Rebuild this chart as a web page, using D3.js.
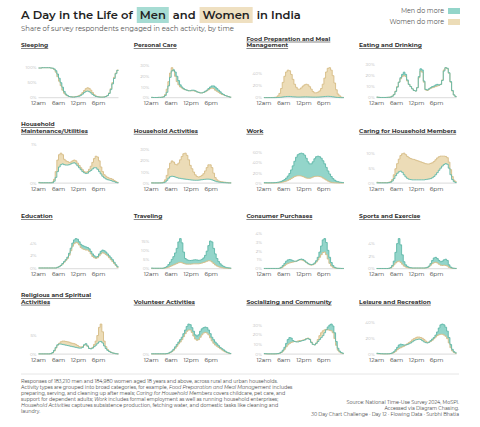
<!DOCTYPE html>
<html>
<head>
<meta charset="utf-8">
<script src="https://cdn.jsdelivr.net/npm/d3@7"></script>
<style>
  body { margin: 0; background: #fff; }
  svg { font-family: Montserrat, Inter, "Open Sans", sans-serif; }
</style>
</head>
<body>
<div id="chart"></div>
<script>
// half-hour slots of the day, share of respondents in percent
const hours = d3.range(0, 24, 0.5);

const activities = [
  'Sleeping', 'Personal Care', 'Food Preparation and Meal\nManagement', 'Eating and Drinking',
  'Household\nMaintenance/Utilities', 'Household Activities', 'Work', 'Caring for Household Members',
  'Education', 'Traveling', 'Consumer Purchases', 'Sports and Exercise',
  'Religious and Spiritual\nActivities', 'Volunteer Activities', 'Socializing and Community', 'Leisure and Recreation'
];

const sleepingMen = [
  99,99,100,100,100,100,100,99,98.5,96,90,79,
  65,50,35,21,12,7,4,3,2,2,3,4,
  5,8,12,17,21,22,20,16,11,7,4,3,
  2,2,2,2,4,7,14,27,46,64,80,91];
const sleepingWomen = [
  99,99,100,100,100,100,100,99,98,94,85,70,
  55,40,25,15,9,6,4,3,3,3,4,5,
  7,11,17,24,30,33,31,25,17,10,6,4,
  3,2,2,3,4,8,16,30,50,68,82,92];

const personalMen = [
  0.3,0.2,0.2,0.2,0.3,0.3,0.4,0.7,2,5,11,19,
  25,26,24,20,16,12,10,8.5,7.5,7,6.5,6.5,
  7,7,6.5,5.5,5,4.5,4.5,5,6,7,8.5,10,
  11,11,10,8.5,7,5.5,4,3,2,1.5,1,0.5];
const personalWomen = [
  0.3,0.2,0.2,0.2,0.3,0.3,0.5,1,3,8,15,23,
  28,25,20,15,12,10,9,8,7.5,7,6.5,6.5,
  6.5,6.5,6,5.5,5,4.5,4.5,5,5.5,6.5,7.5,8.5,
  9,8.5,7,6,5,4,3,2.5,2,1.5,1,0.5];

const foodMen = [
  0.1,0.1,0.1,0.1,0.1,0.1,0.1,0.2,0.3,0.5,0.8,1.2,
  1.6,1.9,2,2,1.8,1.5,1.3,1.1,1,1,1.1,1.2,
  1.3,1.3,1.2,1.1,1,0.9,0.9,0.9,1,1.1,1.3,1.6,
  1.9,2.1,2.2,2.1,1.8,1.4,1,0.6,0.4,0.2,0.1,0.1];
const foodWomen = [
  0.3,0.3,0.3,0.3,0.3,0.4,0.6,1,3,7,15,25,
  35,42,45,44,38,30,22,17,14,14,16,19,
  21,22,21,18,14,10,8,8,9,11,15,22,
  32,42,48,49,45,36,24,13,6,3,1,0.5];

const eatingMen = [
  0.5,0.3,0.2,0.2,0.2,0.2,0.3,0.4,0.6,1.3,2.7,5.5,
  9.5,14,18,21,23,21,16,12,10,8,6.5,6,
  9,19,26,25,15,7.5,7,8,9,10,10.5,11.5,
  12,11.5,12,15.5,24,27,26.5,22.5,14.5,6.5,2.5,1];
const eatingWomen = [
  0.5,0.3,0.2,0.2,0.2,0.2,0.3,0.4,0.7,1.5,3,6,
  10,14,17,19,20,19,15,12,10,8,6.5,6,
  9,18,24,23,14,7,6.5,7.5,8.5,9,9.5,10,
  10.5,11,12,16,25,27,26,22,14,6,2.5,1];

const maintenanceMen = [
  0.01,0.01,0.01,0.01,0.01,0.01,0.01,0.01,0.01,0.05,0.15,0.3,
  0.42,0.48,0.5,0.48,0.47,0.47,0.48,0.5,0.52,0.53,0.5,0.45,
  0.4,0.35,0.3,0.27,0.25,0.26,0.3,0.33,0.37,0.4,0.4,0.36,
  0.3,0.24,0.18,0.14,0.11,0.09,0.08,0.07,0.05,0.04,0.02,0.01];
const maintenanceWomen = [
  0.02,0.01,0.01,0.01,0.01,0.01,0.01,0.01,0.03,0.1,0.3,0.6,
  0.74,0.78,0.74,0.62,0.58,0.56,0.54,0.55,0.58,0.6,0.58,0.52,
  0.46,0.4,0.35,0.3,0.28,0.3,0.36,0.44,0.54,0.64,0.7,0.68,
  0.58,0.42,0.3,0.22,0.18,0.15,0.13,0.12,0.1,0.07,0.04,0.02];

const householdMen = [
  0.2,0.2,0.2,0.2,0.2,0.2,0.2,0.4,1,2.5,4.5,5.8,
  6.2,6,5.5,5,4.5,4.3,4,3.8,3.6,3.4,3.2,3,
  2.8,2.7,2.6,2.6,2.7,2.9,3.1,3.3,3.5,3.6,3.6,3.4,
  3,2.4,1.8,1.3,1,0.8,0.6,0.5,0.4,0.3,0.2,0.2];
const householdWomen = [
  0.3,0.2,0.2,0.2,0.2,0.3,0.5,1,3,7,13,18,
  20,19,17,16.5,18,21,24,26.5,27,25,21,16,
  13,10,7.5,6,5.5,6,7,8.5,11,14,16.5,16.5,
  14,9,5,3,2,1.5,1.2,1,0.8,0.6,0.4,0.3];

const workMen = [
  1,0.8,0.7,0.7,0.7,0.8,1,1.3,1.8,2.5,3.5,5,
  7,10,14,19,26,34,43,51,56,58,59,58,
  55,49,42,38,38,42,48,52,53,52,49,44,
  38,31,24,18,13,9,6,4,3,2,1.5,1.2];
const workWomen = [
  0.3,0.3,0.3,0.3,0.3,0.3,0.3,0.4,0.6,1,1.5,2.2,
  3,4,5.5,7,9,11,13,14,14.5,14.5,14,13,
  11.5,10,9.5,9.5,10.5,12,13,13.5,13.5,13,12,10,
  8,6,4,2.5,1.5,1,0.7,0.5,0.4,0.3,0.3,0.3];

const caringMen = [
  0.1,0.1,0.1,0.1,0.1,0.1,0.1,0.2,0.3,0.7,1.5,2.5,
  3.3,3.8,4,3.6,2.8,2.1,1.6,1.3,1.2,1.1,1.1,1.1,
  1.1,1.1,1.1,1.1,1.1,1.2,1.3,1.4,1.5,1.8,2.2,2.8,
  3.5,4.3,5,5.7,6.2,6.5,6.3,5,2.8,1.2,0.5,0.2];
const caringWomen = [
  0.3,0.2,0.2,0.2,0.2,0.2,0.2,0.3,0.5,1.2,2.8,4.8,
  6.5,8,9.2,9.8,10,9.5,8.9,8.5,8.2,8,7.9,7.7,
  7.5,7.3,7.1,6.9,6.7,6.5,6.4,6.4,6.6,6.8,7.2,7.8,
  8.4,8.8,9,9,9,8.9,8.5,7,4.5,2.2,1,0.5];

const educationMen = [
  0.1,0.1,0.1,0.1,0.1,0.1,0.1,0.1,0.1,0.1,0.1,0.2,
  0.3,0.5,0.8,1.1,1.4,1.8,2.4,3.2,4,4.5,4.7,4.6,
  4.2,3.8,3.6,3.5,3.4,3.3,3.1,2.7,2.3,2,1.8,1.9,
  2.3,2.7,2.9,2.8,2.6,2.3,2,1.7,1.4,1,0.6,0.3];
const educationWomen = [
  0.1,0.1,0.1,0.1,0.1,0.1,0.1,0.1,0.1,0.1,0.1,0.2,
  0.3,0.5,0.7,1,1.3,1.6,2.1,2.8,3.5,3.9,4.1,4,
  3.7,3.3,3.1,3,2.9,2.9,2.7,2.3,1.9,1.7,1.6,1.7,
  2,2.3,2.5,2.4,2.2,2,1.7,1.4,1.1,0.8,0.5,0.2];

const travelMen = [
  0.3,0.2,0.2,0.2,0.2,0.2,0.2,0.3,0.6,1.2,2.2,3.5,
  5,6.5,8.5,11,14.5,16.3,14,9,5.5,4.8,4.5,4.4,
  4.5,4.7,4.8,4.7,4.5,4.6,5,5.8,7.2,9.5,12.5,15,
  14.5,11,8,5.5,3.8,2.6,1.8,1.2,0.8,0.5,0.4,0.3];
const travelWomen = [
  0.1,0.1,0.1,0.1,0.1,0.1,0.1,0.2,0.3,0.5,0.8,1.2,
  1.6,2,2.4,2.8,3.2,3.4,3.2,2.8,2.5,2.4,2.4,2.4,
  2.5,2.6,2.6,2.6,2.6,2.8,3,3.3,3.6,4,4.3,4.2,
  3.6,2.8,2,1.4,1,0.7,0.5,0.3,0.2,0.2,0.1,0.1];

const purchasesMen = [
  0.02,0.02,0.02,0.02,0.02,0.02,0.02,0.02,0.02,0.05,0.15,0.35,
  0.6,0.85,1,1.05,1,0.9,0.85,0.85,0.95,1.05,1.1,1.05,
  0.9,0.75,0.6,0.5,0.45,0.5,0.65,0.9,1.3,1.9,2.6,3.3,
  3.45,3,2.1,1.3,0.7,0.35,0.15,0.07,0.04,0.03,0.02,0.02];
const purchasesWomen = [
  0.01,0.01,0.01,0.01,0.01,0.01,0.01,0.01,0.01,0.03,0.08,0.2,
  0.35,0.5,0.6,0.65,0.7,0.75,0.8,0.85,0.95,1,1,0.95,
  0.85,0.7,0.55,0.45,0.4,0.45,0.55,0.75,1,1.3,1.6,1.85,
  1.9,1.6,1.1,0.6,0.3,0.15,0.07,0.04,0.02,0.02,0.01,0.01];

const sportsMen = [
  0.02,0.02,0.02,0.02,0.02,0.02,0.02,0.05,0.15,0.5,1.2,2.6,
  4,4.8,3.8,2.2,1.1,0.6,0.35,0.2,0.15,0.1,0.1,0.1,
  0.1,0.1,0.1,0.1,0.1,0.12,0.2,0.4,0.8,1.3,1.7,1.8,
  1.6,1.3,1.1,1.2,1.4,1.5,1.3,0.6,0.25,0.1,0.05,0.03];
const sportsWomen = [
  0.01,0.01,0.01,0.01,0.01,0.01,0.01,0.03,0.1,0.3,0.6,0.9,
  1.1,1.2,1,0.7,0.4,0.25,0.15,0.1,0.08,0.08,0.08,0.08,
  0.08,0.08,0.08,0.08,0.08,0.1,0.15,0.3,0.55,0.8,0.95,1,
  0.9,0.7,0.55,0.5,0.55,0.5,0.4,0.2,0.1,0.05,0.03,0.02];

const religiousMen = [
  0.05,0.05,0.05,0.05,0.05,0.05,0.05,0.1,0.4,1,1.8,2.5,
  2.7,2.7,2.6,2.5,2.4,2.3,2.2,2.1,2,1.9,1.8,1.7,
  1.6,1.6,1.8,2.5,2.8,2.2,1.5,1.4,1.6,2,2.4,2.9,
  3.3,3.4,3,2.2,1.5,1,0.7,0.45,0.3,0.2,0.1,0.05];
const religiousWomen = [
  0.05,0.05,0.05,0.05,0.05,0.05,0.05,0.1,0.3,0.8,1.6,2.4,
  2.9,3.3,3.5,3.5,3.4,3.3,3.2,3,2.9,2.8,2.6,2.3,
  2,1.9,2,2.4,2.5,2.1,1.6,1.5,1.8,2.6,3.5,5,
  7.2,8.1,6,3.5,2,1.2,0.8,0.5,0.3,0.2,0.1,0.05];

const volunteerMen = [
  0.002,0.002,0.002,0.002,0.002,0.002,0.002,0.002,0.002,0.004,0.008,0.015,
  0.025,0.04,0.06,0.08,0.1,0.12,0.14,0.17,0.2,0.23,0.25,0.245,
  0.22,0.19,0.16,0.15,0.16,0.19,0.21,0.22,0.225,0.22,0.2,0.17,
  0.14,0.12,0.1,0.085,0.07,0.055,0.045,0.035,0.025,0.015,0.01,0.005];
const volunteerWomen = [
  0.001,0.001,0.001,0.001,0.001,0.001,0.001,0.001,0.001,0.003,0.006,0.012,
  0.02,0.032,0.048,0.065,0.085,0.1,0.12,0.145,0.17,0.19,0.2,0.2,
  0.18,0.15,0.125,0.115,0.12,0.14,0.16,0.175,0.18,0.175,0.16,0.135,
  0.11,0.09,0.075,0.065,0.055,0.045,0.035,0.025,0.018,0.012,0.007,0.004];

const socialMen = [
  0.5,0.3,0.2,0.2,0.2,0.2,0.2,0.3,0.5,1,2,4,
  7,11,15,17,16.5,14,13,12.5,12.5,13,13.5,14,
  14.5,15.5,16,15,12,10,9.5,11,13,15,17,19,
  22,25,28,30,31,29,22,13,6,3,1.5,0.8];
const socialWomen = [
  0.3,0.2,0.1,0.1,0.1,0.1,0.1,0.2,0.4,0.8,1.6,3,
  5,7.5,9.5,11,12,12.5,13,13,13.5,14,14,14.5,
  15,16,16.5,15.5,12.5,10,9.5,11.5,15,19,22,24,
  25,25.5,25,24.5,24,22,16,9,4,2,1,0.5];

const leisureMen = [
  1,0.7,0.5,0.4,0.3,0.3,0.3,0.4,0.7,1.5,3,5.5,
  8.5,11.5,12.5,12,11.5,11.5,12,13,14,15.5,17,18,
  18.5,19,18.5,17,15.5,14.5,14,15,17,19,21,24,
  28,33,37,38,37,34,29,21,12,6,3,1.5];
const leisureWomen = [
  0.6,0.4,0.3,0.2,0.2,0.2,0.2,0.3,0.5,1,2,3.5,
  5.5,7,8,9,10,11.5,13,14.5,16,18,19.5,20.5,
  21.5,21.5,21,20,18.5,16.5,15,15,16,17.5,19.5,21.5,
  23.5,24.5,25,25,24,22.5,19.5,14,8,4,2,1];

const menSeries = [sleepingMen, personalMen, foodMen, eatingMen, maintenanceMen, householdMen, workMen, caringMen,
  educationMen, travelMen, purchasesMen, sportsMen, religiousMen, volunteerMen, socialMen, leisureMen];
const womenSeries = [sleepingWomen, personalWomen, foodWomen, eatingWomen, maintenanceWomen, householdWomen, workWomen, caringWomen,
  educationWomen, travelWomen, purchasesWomen, sportsWomen, religiousWomen, volunteerWomen, socialWomen, leisureWomen];

// y tick values for each panel (fractions)
const yTicks = [
  [0, 0.5, 1], [0, 0.1, 0.2, 0.3], [0, 0.2, 0.4], [0, 0.1, 0.2, 0.3],
  [0, 0.01], [0, 0.1, 0.2, 0.3], [0, 0.2, 0.4, 0.6], [0, 0.05, 0.1],
  [0, 0.02, 0.04], [0, 0.05, 0.1, 0.15], [0, 0.01, 0.02, 0.03, 0.04], [0, 0.02, 0.04],
  [0, 0.05], [0], [0, 0.1, 0.2, 0.3], [0, 0.2, 0.4]
];
const xTicks = [0, 6, 12, 18];
const xTickLabels = ['12am', '6am', '12pm', '6pm'];

const width = 480, height = 427;
const menFill = '#93d5ca', womenFill = '#ecdcb7';
const menLine = '#5fb8a8', womenLine = '#d6bc86';

let svg = d3.select('#chart')
  .append('svg')
  .attr('width', width)
  .attr('height', height);

// ---- title
let titleParts = [
  {t: 'A Day in the Life of', hl: null},
  {t: 'Men', hl: '#a6dcd3'},
  {t: 'and', hl: null},
  {t: 'Women', hl: '#efe0c1'},
  {t: 'in India', hl: null}
];
let title = svg.append('g');
let cursor = 21;
titleParts.forEach(p => {
  let pad = p.hl ? 3 : 0;
  let txt = title.append('text')
    .attr('y', 19)
    .attr('font-size', 11.5)
    .attr('font-weight', 600)
    .attr('fill', '#222')
    .text(p.t);
  let w = txt.node().getComputedTextLength();
  if (p.hl) {
    title.insert('rect', 'text')
      .attr('x', cursor).attr('y', 7)
      .attr('width', w + pad * 2).attr('height', 16)
      .attr('fill', p.hl);
  }
  txt.attr('x', cursor + pad);
  cursor += w + pad * 2 + 4;
});
title.selectAll('rect').lower();

svg.append('text')
  .attr('x', 21).attr('y', 31)
  .attr('font-size', 6.9)
  .attr('fill', '#555')
  .text('Share of survey respondents engaged in each activity, by time');

// ---- legend
let legendItems = [['Men do more', menFill], ['Women do more', womenFill]];
let legend = svg.selectAll('.legend')
  .data(legendItems)
  .enter().append('g')
  .attr('class', 'legend')
  .attr('transform', (d, i) => `translate(0,${11 + i * 11})`);
legend.append('rect')
  .attr('x', 448).attr('y', -3)
  .attr('width', 12).attr('height', 6)
  .attr('fill', d => d[1]);
legend.append('text')
  .attr('x', 444).attr('dy', '.35em')
  .attr('text-anchor', 'end')
  .attr('font-size', 6.4)
  .attr('fill', '#555')
  .text(d => d[0]);

// ---- small multiples
const plotW = 80, plotH = 30;
const colStep = 112.7, rowStep = 85.45;
const x0 = 38.5, base0 = 97.7;

let xScale = d3.scaleLinear().domain([0, 24]).range([0, plotW]);

activities.forEach((name, i) => {
  let c = i % 4, r = Math.floor(i / 4);
  let men = menSeries[i], women = womenSeries[i];
  let g = svg.append('g')
    .attr('transform', `translate(${x0 + c * colStep},${base0 + r * rowStep})`);

  let pts = hours.map((h, j) => ({t: h, m: men[j] / 100, w: women[j] / 100}));
  pts.push({t: 24, m: pts[pts.length - 1].m, w: pts[pts.length - 1].w});

  let maxV = d3.max(pts, d => Math.max(d.m, d.w));
  let yScale = d3.scaleLinear().domain([0, maxV]).range([0, -plotH]);

  // title (bottom aligned)
  let lines = name.split('\n');
  g.append('text')
    .attr('x', -17.5)
    .attr('y', -50.3 - (lines.length - 1) * 6.7)
    .attr('font-size', 5.95)
    .attr('font-weight', 700)
    .attr('fill', '#333')
    .style('text-decoration', 'underline')
    .selectAll('tspan')
    .data(lines)
    .enter().append('tspan')
    .attr('x', -17.5)
    .attr('dy', (d, k) => k ? 6.7 : 0)
    .text(d => d);

  // baseline
  g.append('line')
    .attr('x1', 0).attr('x2', plotW)
    .attr('stroke', '#e2e2e2')
    .attr('stroke-width', 1.2);

  // y ticks
  g.selectAll('.ytick')
    .data(yTicks[i])
    .enter().append('text')
    .attr('class', 'ytick')
    .attr('x', -2)
    .attr('y', d => yScale(d))
    .attr('dy', '.35em')
    .attr('text-anchor', 'end')
    .attr('font-size', 4.4)
    .attr('fill', '#bdbdbd')
    .text(d => d3.format('.0%')(d));

  // x ticks
  g.selectAll('.xtick')
    .data(xTicks)
    .enter().append('text')
    .attr('class', 'xtick')
    .attr('x', d => xScale(d))
    .attr('y', 7.6)
    .attr('text-anchor', 'middle')
    .attr('font-size', 5.8)
    .attr('fill', '#333')
    .text((d, k) => xTickLabels[k]);

  // fill between the two lines, coloured by who does more
  let menArea = d3.area()
    .curve(d3.curveStepAfter)
    .x(d => xScale(d.t))
    .y0(d => yScale(d.w))
    .y1(d => yScale(Math.max(d.m, d.w)));
  let womenArea = d3.area()
    .curve(d3.curveStepAfter)
    .x(d => xScale(d.t))
    .y0(d => yScale(d.m))
    .y1(d => yScale(Math.max(d.m, d.w)));

  g.append('path').datum(pts).attr('d', menArea).attr('fill', menFill);
  g.append('path').datum(pts).attr('d', womenArea).attr('fill', womenFill);

  let lineW = d3.line().curve(d3.curveStepAfter).x(d => xScale(d.t)).y(d => yScale(d.w));
  let lineM = d3.line().curve(d3.curveStepAfter).x(d => xScale(d.t)).y(d => yScale(d.m));

  g.append('path').datum(pts).attr('d', lineW)
    .attr('fill', 'none').attr('stroke', womenLine).attr('stroke-width', 0.9);
  g.append('path').datum(pts).attr('d', lineM)
    .attr('fill', 'none').attr('stroke', menLine).attr('stroke-width', 0.9);
});

// ---- footer
svg.append('line')
  .attr('x1', 21).attr('x2', 459)
  .attr('y1', 374).attr('y2', 374)
  .attr('stroke', '#e6e6e6');

let notes = [
  [['Responses of 183,210 men and 184,980 women aged 18 years and above, across rural and urban households.', 0]],
  [['Activity types are grouped into broad categories, for example, ', 0], ['Food Preparation and Meal Management', 1], [' includes', 0]],
  [['preparing, serving, and cleaning up after meals; ', 0], ['Caring for Household Members', 1], [' covers childcare, pet care, and', 0]],
  [['support for dependent adults; ', 0], ['Work', 1], [' includes formal employment as well as running household enterprises;', 0]],
  [['Household Activities', 1], [' captures subsistence production, fetching water, and domestic tasks like cleaning and', 0]],
  [['laundry.', 0]]
];
let noteText = svg.append('g');
notes.forEach((parts, k) => {
  let t = noteText.append('text')
    .attr('x', 21).attr('y', 383 + k * 6.05)
    .attr('font-size', 4.8)
    .attr('fill', '#444');
  parts.forEach(p => {
    t.append('tspan')
      .attr('font-style', p[1] ? 'italic' : 'normal')
      .text(p[0]);
  });
});

let credits = [
  'Source: National Time-Use Survey 2024, MoSPI.',
  'Accessed via Diagram Chasing.',
  '30 Day Chart Challenge · Day 12 · Flowing Data · Surbhi Bhatia'
];
svg.selectAll('.credit')
  .data(credits)
  .enter().append('text')
  .attr('class', 'credit')
  .attr('x', 459)
  .attr('y', (d, k) => 404 + k * 5.9)
  .attr('text-anchor', 'end')
  .attr('font-size', 4.8)
  .attr('fill', '#444')
  .text(d => d);
</script>
</body>
</html>
